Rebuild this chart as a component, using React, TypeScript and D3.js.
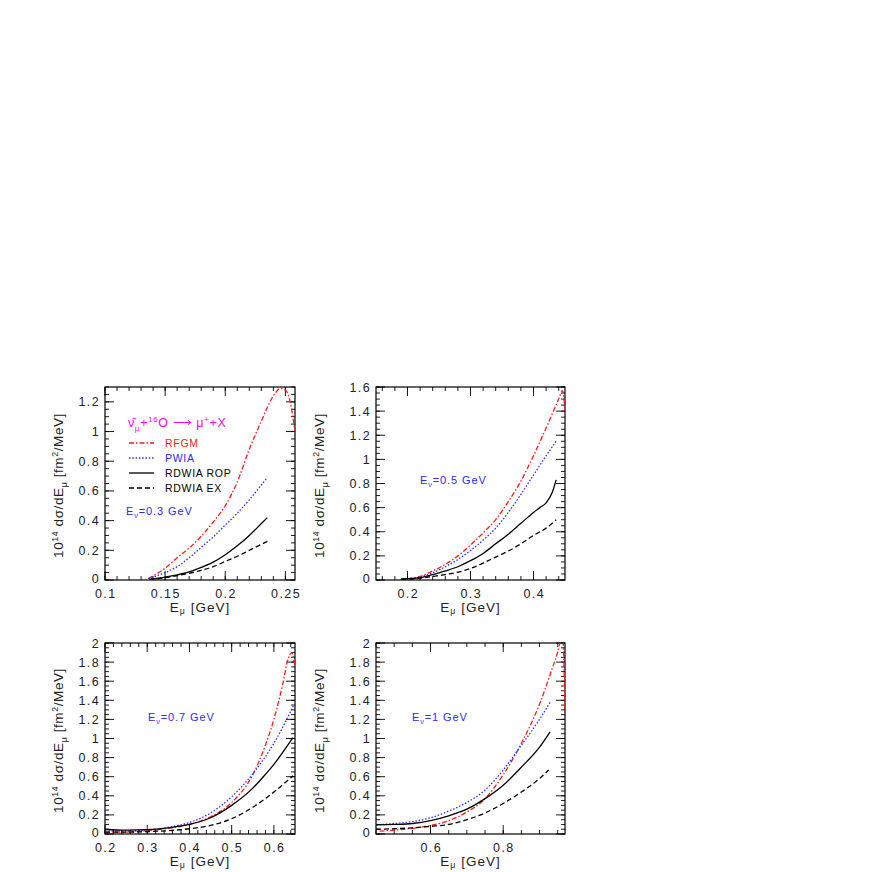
import React, { useRef, useEffect } from "react";
import * as d3 from "d3";

// values: [E_mu (GeV), 10^14 dsigma/dE (fm^2/MeV)]
const rfgm03: [number, number][] = [[0.136, 0.01], [0.15, 0.08], [0.16, 0.15], [0.17, 0.215], [0.18, 0.295], [0.19, 0.39], [0.2, 0.5], [0.21, 0.66], [0.22, 0.88], [0.23, 1.07], [0.24, 1.24], [0.246, 1.29], [0.25, 1.28], [0.254, 1.2], [0.258, 1.0]];
const pwia03: [number, number][] = [[0.136, 0.01], [0.15, 0.05], [0.16, 0.09], [0.17, 0.15], [0.18, 0.22], [0.19, 0.29], [0.2, 0.37], [0.21, 0.45], [0.22, 0.54], [0.23, 0.64], [0.235, 0.69]];
const rop03: [number, number][] = [[0.137, 0.005], [0.15, 0.02], [0.16, 0.035], [0.17, 0.055], [0.18, 0.085], [0.19, 0.12], [0.2, 0.17], [0.21, 0.23], [0.22, 0.3], [0.23, 0.38], [0.235, 0.42]];
const ex03: [number, number][] = [[0.137, 0.003], [0.15, 0.015], [0.16, 0.03], [0.17, 0.045], [0.18, 0.065], [0.19, 0.09], [0.2, 0.125], [0.21, 0.16], [0.22, 0.2], [0.23, 0.24], [0.235, 0.26]];

const rfgm05: [number, number][] = [[0.2, 0.01], [0.22, 0.03], [0.24, 0.075], [0.26, 0.13], [0.28, 0.2], [0.3, 0.29], [0.32, 0.39], [0.34, 0.5], [0.36, 0.65], [0.38, 0.82], [0.4, 1.03], [0.42, 1.26], [0.44, 1.5], [0.446, 1.57], [0.45, 1.4]];
const pwia05: [number, number][] = [[0.2, 0.01], [0.22, 0.025], [0.24, 0.06], [0.26, 0.11], [0.28, 0.17], [0.3, 0.245], [0.32, 0.33], [0.34, 0.43], [0.36, 0.56], [0.38, 0.71], [0.4, 0.87], [0.42, 1.03], [0.436, 1.15]];
const rop05: [number, number][] = [[0.19, 0.01], [0.22, 0.02], [0.24, 0.045], [0.26, 0.075], [0.28, 0.11], [0.3, 0.16], [0.32, 0.22], [0.34, 0.3], [0.36, 0.38], [0.38, 0.47], [0.4, 0.56], [0.41, 0.6], [0.42, 0.64], [0.43, 0.73], [0.436, 0.83]];
const ex05: [number, number][] = [[0.19, 0.005], [0.22, 0.015], [0.24, 0.03], [0.26, 0.045], [0.28, 0.065], [0.3, 0.095], [0.32, 0.14], [0.34, 0.19], [0.36, 0.24], [0.38, 0.3], [0.4, 0.37], [0.42, 0.43], [0.436, 0.5]];

const rfgm07: [number, number][] = [[0.2, 0.02], [0.25, 0.02], [0.3, 0.035], [0.35, 0.06], [0.4, 0.1], [0.45, 0.18], [0.5, 0.33], [0.55, 0.62], [0.58, 0.93], [0.6, 1.2], [0.62, 1.55], [0.635, 1.85], [0.642, 1.9], [0.65, 1.75]];
const pwia07: [number, number][] = [[0.2, 0.03], [0.25, 0.03], [0.3, 0.04], [0.35, 0.07], [0.4, 0.12], [0.45, 0.22], [0.5, 0.39], [0.55, 0.63], [0.6, 0.95], [0.646, 1.34]];
const rop07: [number, number][] = [[0.2, 0.05], [0.25, 0.04], [0.3, 0.045], [0.35, 0.065], [0.4, 0.1], [0.45, 0.17], [0.5, 0.3], [0.55, 0.48], [0.575, 0.6], [0.6, 0.73], [0.645, 1.01]];
const ex07: [number, number][] = [[0.2, 0.02], [0.25, 0.02], [0.3, 0.025], [0.35, 0.035], [0.4, 0.055], [0.45, 0.09], [0.5, 0.16], [0.55, 0.28], [0.6, 0.44], [0.645, 0.61]];

const rfgm10: [number, number][] = [[0.46, 0.03], [0.5, 0.04], [0.55, 0.06], [0.6, 0.09], [0.65, 0.14], [0.7, 0.23], [0.75, 0.37], [0.8, 0.62], [0.85, 0.95], [0.9, 1.36], [0.93, 1.68], [0.955, 1.98], [0.962, 2.1], [0.967, 1.8], [0.97, 1.3]];
const pwia10: [number, number][] = [[0.45, 0.095], [0.5, 0.11], [0.55, 0.13], [0.6, 0.17], [0.65, 0.24], [0.7, 0.33], [0.75, 0.46], [0.8, 0.67], [0.85, 0.93], [0.9, 1.2], [0.929, 1.38]];
const rop10: [number, number][] = [[0.45, 0.095], [0.5, 0.1], [0.55, 0.11], [0.6, 0.14], [0.65, 0.19], [0.7, 0.26], [0.75, 0.37], [0.8, 0.51], [0.85, 0.7], [0.9, 0.91], [0.929, 1.07]];
const ex10: [number, number][] = [[0.45, 0.05], [0.5, 0.055], [0.55, 0.065], [0.6, 0.08], [0.65, 0.1], [0.7, 0.15], [0.75, 0.22], [0.8, 0.32], [0.85, 0.44], [0.9, 0.58], [0.925, 0.67]];

// tick labels
const xTicks03 = [0.1, 0.15, 0.2, 0.25];
const xTicks05 = [0.2, 0.3, 0.4];
const xTicks07 = [0.2, 0.3, 0.4, 0.5, 0.6];
const xTicks10 = [0.6, 0.8];
const yTicks13 = [0, 0.2, 0.4, 0.6, 0.8, 1, 1.2];
const yTicks16 = [0, 0.2, 0.4, 0.6, 0.8, 1, 1.2, 1.4, 1.6];
const yTicks20 = [0, 0.2, 0.4, 0.6, 0.8, 1, 1.2, 1.4, 1.6, 1.8, 2];

const legendNames = ["RFGM", "PWIA", "RDWIA ROP", "RDWIA EX"];

const RED = "#ff1a1a";
const BLUE = "#2a2aff";
const styles = [
  { color: RED, dash: "5,2,1.5,2" },
  { color: BLUE, dash: "1.5,1.8" },
  { color: "#000", dash: null },
  { color: "#000", dash: "5,3" },
];

const FONT = "'Liberation Sans', Arial, Helvetica, sans-serif";

const panels = [
  { id: "p03", left: 105, top: 387, w: 190, h: 193, xd: [0.1, 0.258], yd: [0, 1.3], xt: xTicks03, xm: 0.01, yt: yTicks13, ym: 0.05, series: [rfgm03, pwia03, rop03, ex03], ev: "0.3", evPos: [126, 515], legend: true },
  { id: "p05", left: 376, top: 387, w: 189, h: 193, xd: [0.15, 0.45], yd: [0, 1.6], xt: xTicks05, xm: 0.02, yt: yTicks16, ym: 0.05, series: [rfgm05, pwia05, rop05, ex05], ev: "0.5", evPos: [420, 484], legend: false },
  { id: "p07", left: 105, top: 643, w: 190, h: 191, xd: [0.2, 0.65], yd: [0, 2], xt: xTicks07, xm: 0.02, yt: yTicks20, ym: 0.05, series: [rfgm07, pwia07, rop07, ex07], ev: "0.7", evPos: [148, 721], legend: false },
  { id: "p10", left: 376, top: 643, w: 189, h: 191, xd: [0.45, 0.97], yd: [0, 2], xt: xTicks10, xm: 0.05, yt: yTicks20, ym: 0.05, series: [rfgm10, pwia10, rop10, ex10], ev: "1", evPos: [412, 721], legend: false },
];

const fmt = (v: number) => String(+v.toFixed(3));

function subText(t: any, parts: [string, string][], size: number, subShift = 0.3) {
  // parts: [text, "n" | "sub" | "sup"]
  let shift = 0;
  parts.forEach(([s, kind]) => {
    const target = kind === "sub" ? size * subShift : kind === "sup" ? -size * 0.4 : 0;
    t.append("tspan")
      .attr("dy", target - shift)
      .style("font-size", kind === "n" ? `${size}px` : `${size * 0.65}px`)
      .text(s);
    shift = target;
  });
}

const App = () => {
  const svgRef = useRef<SVGSVGElement>(null);

  useEffect(() => {
    const svg = d3.select(svgRef.current);
    svg.selectAll("*").remove();

    panels.forEach(p => {
      const x = d3.scaleLinear().domain(p.xd).range([p.left, p.left + p.w]);
      const y = d3.scaleLinear().domain(p.yd).range([p.top + p.h, p.top]);
      const g = svg.append("g");

      g.append("clipPath").attr("id", `clip-${p.id}`)
        .append("rect").attr("x", p.left).attr("y", p.top).attr("width", p.w).attr("height", p.h);

      // ticks on all four sides, pointing inwards
      const bottom = p.top + p.h;
      const right = p.left + p.w;
      const xMinor = d3.range(Math.ceil(p.xd[0] / p.xm - 1e-6) * p.xm, p.xd[1] + 1e-9, p.xm);
      const yMinor = d3.range(0, p.yd[1] + 1e-9, p.ym);
      const tick = (x1: number, y1: number, x2: number, y2: number) =>
        g.append("line").attr("x1", x1).attr("y1", y1).attr("x2", x2).attr("y2", y2)
          .attr("stroke", "#000").attr("stroke-width", 0.9);
      xMinor.forEach(v => { tick(x(v), bottom, x(v), bottom - 4); tick(x(v), p.top, x(v), p.top + 4); });
      p.xt.forEach(v => { tick(x(v), bottom, x(v), bottom - 9); tick(x(v), p.top, x(v), p.top + 9); });
      yMinor.forEach(v => { tick(p.left, y(v), p.left + 4, y(v)); tick(right, y(v), right - 4, y(v)); });
      p.yt.forEach(v => { tick(p.left, y(v), p.left + 9, y(v)); tick(right, y(v), right - 9, y(v)); });

      g.append("rect").attr("x", p.left).attr("y", p.top).attr("width", p.w).attr("height", p.h)
        .attr("fill", "none").attr("stroke", "#000").attr("stroke-width", 1.2);

      // tick labels
      g.selectAll(".xl").data(p.xt).enter().append("text")
        .attr("x", d => x(d) + 0.7).attr("y", bottom + 17.5)
        .attr("text-anchor", "middle").style("font-family", FONT).style("font-size", "12.5px")
        .style("letter-spacing", "1.4px").attr("fill", "#222").text(d => fmt(d));
      g.selectAll(".yl").data(p.yt).enter().append("text")
        .attr("x", p.left - 5).attr("y", d => y(d) + (d === 0 ? 3 : 4.5))
        .attr("text-anchor", "end").style("font-family", FONT).style("font-size", "12.5px")
        .style("letter-spacing", "1.4px").attr("fill", "#222").text(d => fmt(d));

      // axis titles
      const xt = g.append("text").attr("x", p.left + p.w / 2).attr("y", bottom + 31.5)
        .attr("text-anchor", "middle").style("font-family", FONT).attr("fill", "#222")
        .style("letter-spacing", "1px");
      subText(xt, [["E", "n"], ["\u03bc", "sub"], [" [GeV]", "n"]], 13.5, 0.2);

      const yx = p.left - (p.left < 200 ? 42 : 52);
      const yt = g.append("text")
        .attr("transform", `translate(${yx},${p.top + p.h / 2 + 2}) rotate(-90)`)
        .attr("text-anchor", "middle").style("font-family", FONT).attr("fill", "#222")
        .style("letter-spacing", "0.6px");
      subText(yt, [["10", "n"], ["14", "sup"], [" d\u03c3/dE", "n"], ["\u03bc", "sub"], [" [fm", "n"], ["2", "sup"], ["/MeV]", "n"]], 13.5);

      // curves
      const line = d3.line<[number, number]>().x(d => x(d[0])).y(d => y(d[1])).curve(d3.curveMonotoneX);
      p.series.forEach((s, i) => {
        g.append("path").datum(s)
          .attr("clip-path", `url(#clip-${p.id})`)
          .attr("fill", "none").attr("stroke", styles[i].color).attr("stroke-width", 1.3)
          .attr("stroke-dasharray", styles[i].dash)
          .attr("d", line);
      });

      // neutrino energy
      const ev = g.append("text").attr("x", p.evPos[0]).attr("y", p.evPos[1])
        .style("font-family", FONT).attr("fill", BLUE).style("letter-spacing", "0.9px");
      subText(ev, [["E", "n"], ["\u03bd", "sub"], [`=${p.ev} GeV`, "n"]], 11);

      if (p.legend) {
        const r = g.append("text").attr("x", 128).attr("y", 427)
          .style("font-family", FONT).attr("fill", "#ff00ff").style("letter-spacing", "0.6px");
        subText(r, [["\u03bd\u0304", "n"], ["\u03bc", "sub"], ["+", "n"], ["16", "sup"], ["O \u27f6 \u03bc", "n"], ["+", "sup"], ["+X", "n"]], 12.5);
        legendNames.forEach((name, i) => {
          const ly = 443 + i * 15;
          g.append("line").attr("x1", 129).attr("x2", 154).attr("y1", ly).attr("y2", ly)
            .attr("stroke", styles[i].color).attr("stroke-width", 1.3)
            .attr("stroke-dasharray", styles[i].dash);
          g.append("text").attr("x", 165).attr("y", ly + 4)
            .style("font-family", FONT).style("font-size", "10.5px").style("letter-spacing", "0.7px")
            .attr("fill", i === 0 ? RED : i === 1 ? BLUE : "#000").text(name);
        });
      }
    });
  }, []);

  return (
    <svg ref={svgRef} width={872} height={872}
      style={{ position: "absolute", left: 0, top: 0, background: "#fff" }} />
  );
};

export default App;
